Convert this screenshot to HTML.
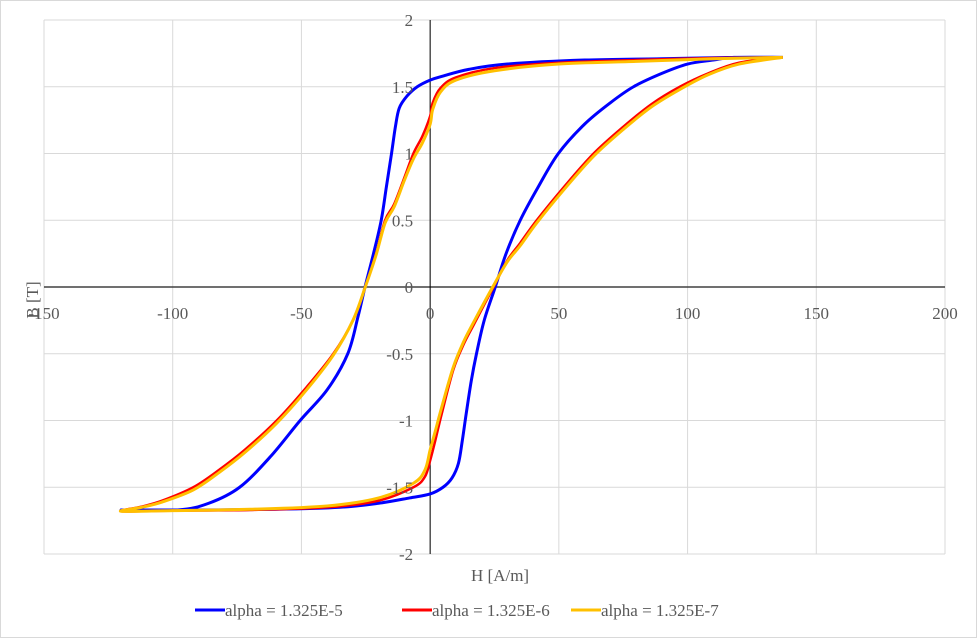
<!DOCTYPE html>
<html><head><meta charset="utf-8"><style>
body{margin:0;background:#fff}
svg{display:block;font-family:"Liberation Serif",serif}
</style></head><body>
<svg width="977" height="638">
<rect x="0.5" y="0.5" width="976" height="637" fill="#fff" stroke="#d9d9d9"/>
<g id="grid"></g>
<g id="axes"></g>
<g id="series"></g>
<g id="labels"></g>
<text x="471" y="581" font-size="17" fill="#595959">H [A/m]</text>
<text transform="translate(38,300) rotate(-90)" font-size="17" fill="#595959" text-anchor="middle">B [T]</text>
<g id="legend"></g>
</svg>
<script>
const xTicks=[-150,-100,-50,0,50,100,150,200];
const yTicks=[-2,-1.5,-1,-0.5,0,0.5,1,1.5,2];
const seriesNames=["alpha = 1.325E-5","alpha = 1.325E-6","alpha = 1.325E-7"];
const seriesColors=["#0000ff","#ff0000","#ffc000"];
const blueH=[137,118,90,60,30,15,5,0,-5,-9,-12,-13.5,-15,-17,-19,-22,-25.3,-28,-32,-40,-50.5,-62,-74,-86,-98,-120,-90,-60,-35,-20,-8,0,5,8.5,11,12.5,14,16,18,21,25.3,29.5,35,42,49.8,60,70,79,90,100,110,118,137];
const blueB=[1.72,1.72,1.71,1.70,1.67,1.63,1.58,1.55,1.50,1.43,1.34,1.2,1.0,0.75,0.5,0.25,0,-0.22,-0.5,-0.77,-1.0,-1.27,-1.5,-1.62,-1.67,-1.67,-1.67,-1.665,-1.65,-1.62,-1.58,-1.55,-1.50,-1.43,-1.32,-1.15,-0.95,-0.7,-0.5,-0.25,0,0.25,0.5,0.75,1.0,1.22,1.38,1.5,1.6,1.67,1.70,1.72,1.72];
const redH=[137,110,80,50,25,10,4,1,0,-3,-6.5,-10,-14,-17.5,-21,-25.2,-30,-37.6,-48,-59.6,-72,-82,-92,-104,-112,-120,-100,-70,-40,-20,-6.5,-2,0,2,4.5,9,13,17,24.6,30,35,41.4,52,63.5,75,86,97,108,120,137];
const redB=[1.72,1.715,1.70,1.68,1.64,1.57,1.49,1.38,1.28,1.13,1.0,0.82,0.62,0.5,0.25,0,-0.25,-0.5,-0.75,-1.0,-1.22,-1.37,-1.5,-1.6,-1.645,-1.68,-1.675,-1.67,-1.65,-1.6,-1.5,-1.42,-1.30,-1.15,-0.95,-0.62,-0.43,-0.28,0,0.2,0.33,0.5,0.75,1.0,1.2,1.37,1.5,1.6,1.68,1.72];
const orangeH=[137,110,80,50,25,10,4,1,0,-3,-6.5,-10,-14,-17.5,-21,-25.2,-30,-37.6,-48,-59.6,-72,-82,-92,-104,-112,-120,-100,-70,-40,-20,-6.5,-2,0,2,4.5,9,13,17,24.6,30,35,41.4,52,63.5,75,86,97,108,120,137];
const orangeB=[1.72,1.71,1.69,1.67,1.62,1.55,1.46,1.33,1.22,1.08,0.96,0.8,0.6,0.48,0.24,0,-0.25,-0.51,-0.77,-1.02,-1.24,-1.39,-1.52,-1.61,-1.65,-1.68,-1.675,-1.665,-1.64,-1.58,-1.47,-1.37,-1.22,-1.08,-0.9,-0.6,-0.41,-0.26,0.01,0.19,0.31,0.48,0.73,0.98,1.18,1.35,1.48,1.59,1.67,1.72];
const NS="http://www.w3.org/2000/svg";
const X0=44,X1=945,Y0=554,Y1=20;
function sx(v){return X0+(v+150)/350*(X1-X0);}
function sy(v){return Y0-(v+2)/4*(Y0-Y1);}
function mk(t,a,p){const e=document.createElementNS(NS,t);for(const k in a)e.setAttribute(k,a[k]);p.appendChild(e);return e;}
const grid=document.getElementById('grid'),axes=document.getElementById('axes'),labels=document.getElementById('labels'),series=document.getElementById('series'),legend=document.getElementById('legend');
xTicks.forEach(t=>{const l=mk('line',{x1:sx(t),x2:sx(t),y1:Y1,y2:Y0,stroke:'#d9d9d9'},grid);


const tx=mk('text',{x:sx(t),y:sy(0)+32,'font-size':17,fill:'#595959','text-anchor':'middle'},labels);tx.textContent=t;

});
yTicks.forEach(t=>{const l=mk('line',{x1:X0,x2:X1,y1:sy(t),y2:sy(t),stroke:'#d9d9d9'},grid);


const tx=mk('text',{x:sx(0)-17,y:sy(t)+6,'font-size':17,fill:'#595959','text-anchor':'end'},labels);tx.textContent=t;

});
const ax=mk('line',{x1:X0,x2:X1,y1:sy(0),y2:sy(0),stroke:'#404040','stroke-width':1.5},axes);


const ay=mk('line',{x1:sx(0),x2:sx(0),y1:Y1,y2:Y0,stroke:'#000','stroke-width':1},axes);


const data=[[blueH,blueB],[redH,redB],[orangeH,orangeB]];
function smooth(pts){let d='M'+pts[0][0]+','+pts[0][1];for(let i=0;i<pts.length-1;i++){const p0=pts[Math.max(0,i-1)],p1=pts[i],p2=pts[i+1],p3=pts[Math.min(pts.length-1,i+2)];
const c1=[p1[0]+(p2[0]-p0[0])/6,p1[1]+(p2[1]-p0[1])/6],c2=[p2[0]-(p3[0]-p1[0])/6,p2[1]-(p3[1]-p1[1])/6];
d+=' C'+c1+' '+c2+' '+p2;}return d;}
data.forEach((s,i)=>{const pts=s[0].map((h,j)=>[sx(h),sy(s[1][j])]);
const p=mk('path',{d:smooth(pts),fill:'none',stroke:seriesColors[i],'stroke-width':i==1?2.5:3,'stroke-linejoin':'round'},series);

});
const lx=[195,402,571];
seriesNames.forEach((n,i)=>{const g=mk('g',{},legend);


mk('line',{x1:lx[i],x2:lx[i]+30,y1:610,y2:610,stroke:seriesColors[i],'stroke-width':3},g);
const t=mk('text',{x:lx[i]+30,y:616,'font-size':17,fill:'#595959'},g);t.textContent=n;});
</script>
</body></html>
